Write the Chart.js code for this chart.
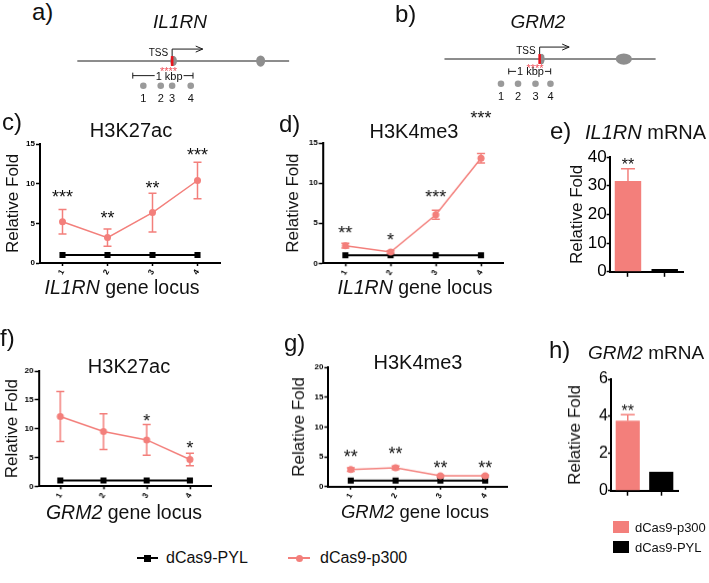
<!DOCTYPE html>
<html>
<head>
<meta charset="utf-8">
<script src="https://cdn.jsdelivr.net/npm/chart.js@4.4.1/dist/chart.umd.min.js"></script>
<style>
body{margin:0;background:#fff;width:709px;height:583px;position:relative;overflow:hidden;font-family:"Liberation Sans",Arial,sans-serif;color:#111}
.box{position:absolute}
.t{position:absolute;white-space:nowrap;line-height:1}
.c{text-align:center;width:240px}
i{font-style:italic}
</style>
</head>
<body>
<div class="box" id="bA"><canvas id="chA"></canvas></div>
<div class="box" id="bB"><canvas id="chB"></canvas></div>
<div class="box" id="bC"><canvas id="chC"></canvas></div>
<div class="box" id="bD"><canvas id="chD"></canvas></div>
<div class="box" id="bE"><canvas id="chE"></canvas></div>
<div class="box" id="bF"><canvas id="chF"></canvas></div>
<div class="box" id="bG"><canvas id="chG"></canvas></div>
<div class="box" id="bH"><canvas id="chH"></canvas></div>

<div class="t" style="font-size:24px;left:32px;top:0px">a)</div>
<div class="t c" style="font-size:19px;left:60px;top:12px"><i>IL1RN</i></div>
<div class="t" style="font-size:24px;left:395px;top:2px">b)</div>
<div class="t c" style="font-size:19px;left:418px;top:12px"><i>GRM2</i></div>

<div class="t" style="font-size:24px;left:2px;top:110px">c)</div>
<div class="t c" style="font-size:20px;left:11px;top:120.4px">H3K27ac</div>
<div class="t" style="font-size:24px;left:279px;top:112px">d)</div>
<div class="t c" style="font-size:20px;left:294px;top:121.4px">H3K4me3</div>
<div class="t" style="font-size:24px;left:550px;top:119px">e)</div>
<div class="t" style="font-size:20px;left:585px;top:122px"><i>IL1RN</i> mRNA</div>
<div class="t c" style="font-size:19.5px;left:2px;top:277.5px"><i>IL1RN</i> gene locus</div>
<div class="t c" style="font-size:19.5px;left:295px;top:277.5px"><i>IL1RN</i> gene locus</div>

<div class="t" style="font-size:24px;left:0px;top:326px">f)</div>
<div class="t c" style="font-size:20px;left:9px;top:355.8px">H3K27ac</div>
<div class="t" style="font-size:24px;left:284px;top:331px">g)</div>
<div class="t c" style="font-size:20px;left:298px;top:352.4px">H3K4me3</div>
<div class="t" style="font-size:24px;left:549px;top:338px">h)</div>
<div class="t" style="font-size:19px;left:588px;top:343px"><i>GRM2</i> mRNA</div>
<div class="t c" style="font-size:19.5px;left:4px;top:502.5px"><i>GRM2</i> gene locus</div>
<div class="t c" style="font-size:18.5px;left:295px;top:502.5px"><i>GRM2</i> gene locus</div>

<div class="box" style="left:137px;top:557px;width:21px;height:2px;background:#000"></div>
<div class="box" style="left:144px;top:554.5px;width:7px;height:7px;background:#000"></div>
<div class="t" style="font-size:16px;left:166px;top:550px">dCas9-PYL</div>
<div class="box" style="left:288px;top:557px;width:22px;height:1.5px;background:#f37f7b"></div>
<div class="box" style="left:295.5px;top:554.5px;width:7px;height:7px;border-radius:50%;background:#f37f7b"></div>
<div class="t" style="font-size:16px;left:320px;top:550px">dCas9-p300</div>
<div class="box" style="left:613px;top:521px;width:16px;height:12px;background:#f37f7b"></div>
<div class="box" style="left:613px;top:541px;width:16px;height:12px;background:#000"></div>
<div class="t" style="font-size:13px;left:635px;top:521px">dCas9-p300</div>
<div class="t" style="font-size:13px;left:635px;top:541px">dCas9-PYL</div>

<script>
const family = '"Liberation Sans", Arial, sans-serif';
Chart.defaults.font.family = family;
Chart.defaults.color = '#000';
const PINK = '#f37f7b';

// loci along each promoter (kbp from TSS) and their labels
const loci = ['1', '2', '3', '4'];
const il1rnLoci = [-0.48, -0.19, 0.0, 0.31];
const grm2Loci = [-0.93, -0.52, -0.10, 0.26];

// c) IL1RN H3K27ac
const cP300 = [5.2, 3.2, 6.35, 10.4];
const cErr = [1.55, 1.1, 2.45, 2.3];
const cPyl = [1, 1, 1, 1];
const cStars = ['***', '**', '**', '***'];
const cStarY = [8.9, 6.2, 10.0, 14.2];

// d) IL1RN H3K4me3
const dP300 = [2.2, 1.4, 6.05, 13.1];
const dErr = [0.3, 0.15, 0.55, 0.6];
const dPyl = [1, 1, 1, 1];
const dStars = ['**', '*', '***', '***'];
const dStarY = [4.3, 3.4, 8.8, 18.7];

// e) IL1RN mRNA
const mrnaGroups = ['dCas9-p300', 'dCas9-PYL'];
const eVals = [31.6, 1.0];
const eErr = [4.3, 0];
const eStars = ['**', ''];
const eStarY = [38.8, 0];

// f) GRM2 H3K27ac
const fP300 = [12.1, 9.5, 8.05, 4.65];
const fErr = [4.35, 3.1, 2.65, 1.1];
const fPyl = [1, 1, 1, 1];
const fStars = ['', '', '*', '*'];
const fStarY = [0, 0, 12.1, 7.3];

// g) GRM2 H3K4me3
const gP300 = [2.85, 3.15, 1.8, 1.8];
const gErr = [0.3, 0.3, 0.15, 0.15];
const gPyl = [1, 1, 1, 1];
const gStars = ['**', '**', '**', '**'];
const gStarY = [5.7, 6.2, 3.95, 3.95];

// h) GRM2 mRNA
const hVals = [3.76, 1.02];
const hErr = [0.33, 0];
const hStars = ['**', ''];
const hStarY = [4.5, 0];

// error bars + significance stars
const marks = {
  id: 'marks',
  beforeDatasetsDraw(chart) {
    const o = chart.options.plugins.marks;
    if (!o || !o.err) return;
    const ctx = chart.ctx, ys = chart.scales.y;
    const pts = chart.getDatasetMeta(0).data;
    const vals = chart.data.datasets[0].data;
    ctx.save();
    ctx.strokeStyle = PINK;
    ctx.lineWidth = 1.5;
    o.err.forEach((e, i) => {
      if (!e) return;
      const x = pts[i].x;
      const top = ys.getPixelForValue(vals[i] + e);
      const bot = ys.getPixelForValue(o.upOnly ? vals[i] : vals[i] - e);
      ctx.beginPath();
      ctx.moveTo(x, bot); ctx.lineTo(x, top);
      ctx.moveTo(x - o.cap, top); ctx.lineTo(x + o.cap, top);
      if (!o.upOnly) { ctx.moveTo(x - o.cap, bot); ctx.lineTo(x + o.cap, bot); }
      ctx.stroke();
    });
    ctx.restore();
  },
  afterDraw(chart) {
    const o = chart.options.plugins.marks;
    if (!o || !o.stars) return;
    const ctx = chart.ctx, ys = chart.scales.y;
    const pts = chart.getDatasetMeta(0).data;
    ctx.save();
    ctx.fillStyle = '#111';
    ctx.textAlign = 'center';
    ctx.font = o.starSize + 'px ' + family;
    o.stars.forEach((s, i) => {
      if (!s) return;
      ctx.fillText(s, pts[i].x, ys.getPixelForValue(o.starY[i]) + 0.57 * o.starSize);
    });
    ctx.restore();
  }
};

// promoter schematic drawn in kbp coordinates
const gene = {
  id: 'gene',
  beforeDatasetsDraw(chart) {
    const g = chart.options.plugins.gene;
    if (!g || !g.body) return;
    const ctx = chart.ctx;
    const X = v => chart.scales.x.getPixelForValue(v);
    const Y = v => chart.scales.y.getPixelForValue(v);
    const y0 = Y(0), xt = X(0);
    ctx.save();
    ctx.strokeStyle = '#1a1a1a';
    ctx.lineWidth = 1;
    ctx.beginPath(); ctx.moveTo(X(g.body[0]), y0); ctx.lineTo(X(g.body[1]), y0); ctx.stroke();
    ctx.fillStyle = '#8e8e8e';
    g.exons.forEach(e => {
      const rx = (X(e[1]) - X(e[0])) / 2;
      ctx.beginPath();
      ctx.ellipse(X(e[0]) + rx, y0, rx, y0 - Y(e[2]), 0, 0, 2 * Math.PI);
      ctx.fill();
    });
    ctx.fillStyle = '#e8151f';
    ctx.fillRect(xt - 1.3, Y(0.22), 2.6, Y(-0.22) - Y(0.22));
    const ya = Y(0.53), xe = X(g.arrowTo);
    ctx.beginPath();
    ctx.moveTo(xt, y0 - 5); ctx.lineTo(xt, ya); ctx.lineTo(xe, ya);
    ctx.moveTo(xe - 7, ya - 3); ctx.lineTo(xe, ya); ctx.lineTo(xe - 7, ya + 3);
    ctx.stroke();
    ctx.fillStyle = '#111';
    ctx.font = '10px ' + family;
    ctx.textAlign = 'right';
    ctx.fillText('TSS', xt - 4, Y(0.23));
    ctx.textAlign = 'center';
    ctx.fillStyle = '#f0505a';
    ctx.font = '11px ' + family;
    ctx.fillText('****', X(g.guides), Y(g.guideRow) + 6.3);
    const yb = Y(g.barRow), b0 = X(g.bar[0]), b1 = X(g.bar[1]);
    const tw = ctx.measureText('1 kbp').width, xc = X(g.barText);
    ctx.beginPath();
    ctx.moveTo(b0, yb - 3); ctx.lineTo(b0, yb + 3);
    ctx.moveTo(b0, yb); ctx.lineTo(xc - tw / 2 - 1, yb);
    ctx.moveTo(xc + tw / 2 + 1, yb); ctx.lineTo(b1, yb);
    ctx.moveTo(b1, yb - 3); ctx.lineTo(b1, yb + 3);
    ctx.stroke();
    ctx.fillStyle = '#111';
    ctx.fillText('1 kbp', xc, yb + 4);
    chart.getDatasetMeta(0).data.forEach((p, i) => ctx.fillText(loci[i], p.x, p.y + 16));
    ctx.restore();
  }
};
Chart.register(marks, gene);

function place(id, l, t, r, b, yw, xh, padT, padR) {
  const el = document.getElementById(id);
  el.style.left = (l - yw) + 'px';
  el.style.top = (t - padT) + 'px';
  el.style.width = (r - l + yw + padR) + 'px';
  el.style.height = (b - t + padT + xh) + 'px';
}

function geneChart(id, lociX, xMin, xMax, g) {
  return new Chart(document.getElementById(id), {
    type: 'scatter',
    data: { datasets: [{ data: lociX.map(v => ({ x: v, y: -1.1 })), backgroundColor: '#9a9a9a', pointRadius: 3.3, pointBorderWidth: 0 }] },
    options: {
      responsive: true, maintainAspectRatio: false, animation: false, events: [],
      layout: { padding: 0 },
      plugins: { legend: { display: false }, tooltip: { enabled: false }, gene: g },
      scales: {
        x: { type: 'linear', display: false, min: xMin, max: xMax },
        y: { display: false, min: -2, max: 1.2 }
      }
    }
  });
}

function yAxis(max, step, size, bold, tickLen, yw, pad) {
  return {
    min: 0, max: max,
    ticks: { stepSize: step, font: { size: size, weight: bold ? 'bold' : 'normal' }, color: '#000', padding: pad },
    grid: { drawOnChartArea: false, tickLength: tickLen, tickColor: '#000', tickWidth: 1.5 },
    border: { color: '#000', width: 2 },
    title: { display: true, text: 'Relative Fold', font: { size: 17 }, color: '#111', padding: { top: 2, bottom: 0 } },
    afterFit: s => { s.width = yw; }
  };
}

function lineChart(id, p300, err, pyl, yMax, stars, starY, yw) {
  return new Chart(document.getElementById(id), {
    type: 'line',
    data: {
      labels: loci,
      datasets: [
        { label: 'dCas9-p300', data: p300, borderColor: PINK, backgroundColor: PINK, borderWidth: 1.5, pointRadius: 3.5, pointStyle: 'circle', pointBorderWidth: 0 },
        { label: 'dCas9-PYL', data: pyl, borderColor: '#000', backgroundColor: '#000', borderWidth: 2, pointRadius: 4.3, pointStyle: 'rect', pointBorderWidth: 0 }
      ]
    },
    options: {
      responsive: true, maintainAspectRatio: false, animation: false, events: [],
      layout: { padding: { top: 45, right: 8, left: 0, bottom: 0 } },
      plugins: {
        legend: { display: false }, tooltip: { enabled: false },
        marks: { err: err, cap: 4, stars: stars, starY: starY, starSize: 18 }
      },
      scales: {
        x: {
          offset: true,
          grid: { drawOnChartArea: false, offset: false, tickLength: 3, tickColor: '#000', tickWidth: 1.5 },
          border: { color: '#000', width: 2 },
          ticks: { font: { size: 8, weight: 'bold' }, color: '#000', minRotation: 60, maxRotation: 60, autoSkip: false, padding: 2 },
          afterFit: s => { s.height = 28; }
        },
        y: yAxis(yMax, 5, 8, true, 4, yw, 1)
      }
    }
  });
}

function barChart(id, vals, err, yMax, step, tickSize, stars, starY, yw) {
  return new Chart(document.getElementById(id), {
    type: 'bar',
    data: {
      labels: mrnaGroups,
      datasets: [{ data: vals, backgroundColor: [PINK, '#000'], borderWidth: 0, barPercentage: 0.72, categoryPercentage: 1 }]
    },
    options: {
      responsive: true, maintainAspectRatio: false, animation: false, events: [],
      layout: { padding: { top: 20, right: 8, left: 0, bottom: 0 } },
      plugins: {
        legend: { display: false }, tooltip: { enabled: false },
        marks: { err: err, cap: 7, upOnly: true, stars: stars, starY: starY, starSize: 16 }
      },
      scales: {
        x: {
          offset: true,
          grid: { drawOnChartArea: false, offset: false, tickLength: 5, tickColor: '#000', tickWidth: 1.5 },
          border: { color: '#000', width: 2 },
          ticks: { display: false },
          afterFit: s => { s.height = 10; }
        },
        y: yAxis(yMax, step, tickSize, false, 3, yw, 0)
      }
    }
  });
}

// schematics
place('bA', 60, 30, 310, 110, 0, 0, 0, 0);
place('bB', 430, 28, 670, 108, 0, 0, 0, 0);
geneChart('chA', il1rnLoci, -1.802, 2.231, {
  body: [-1.58, 1.95], exons: [[-0.03, 0.08, 0.22], [1.40, 1.55, 0.25]],
  arrowTo: 0.51, guides: -0.06, guideRow: -0.32, bar: [-0.656, 0.348], barRow: -0.65, barText: -0.05
});
geneChart('chB', grm2Loci, -2.542, 3.040, {
  body: [-2.29, 2.79], exons: [[-0.01, 0.12, 0.23], [1.83, 2.22, 0.25]],
  arrowTo: 0.71, guides: -0.11, guideRow: -0.28, bar: [-0.744, 0.265], barRow: -0.55, barText: -0.22
});

// line panels
place('bC', 40, 144, 220, 263, 39, 28, 45, 8);
lineChart('chC', cP300, cErr, cPyl, 15, cStars, cStarY, 39);
place('bD', 323, 142.7, 503, 263, 41.6, 28, 45, 8);
lineChart('chD', dP300, dErr, dPyl, 15, dStars, dStarY, 41.6);
place('bF', 38.5, 370.7, 210.5, 486, 38.5, 28, 45, 8);
lineChart('chF', fP300, fErr, fPyl, 20, fStars, fStarY, 38.5);
place('bG', 328.3, 367.3, 507.5, 486, 41.4, 28, 45, 8);
lineChart('chG', gP300, gErr, gPyl, 20, gStars, gStarY, 41.4);

// bar panels
place('bE', 609.5, 156.7, 683, 271.7, 44.6, 10, 20, 8);
barChart('chE', eVals, eErr, 40, 10, 17, eStars, eStarY, 44.6);
place('bH', 611, 379.3, 678, 490, 48, 10, 20, 8);
barChart('chH', hVals, hErr, 6, 2, 16, hStars, hStarY, 48);
</script>
</body>
</html>
